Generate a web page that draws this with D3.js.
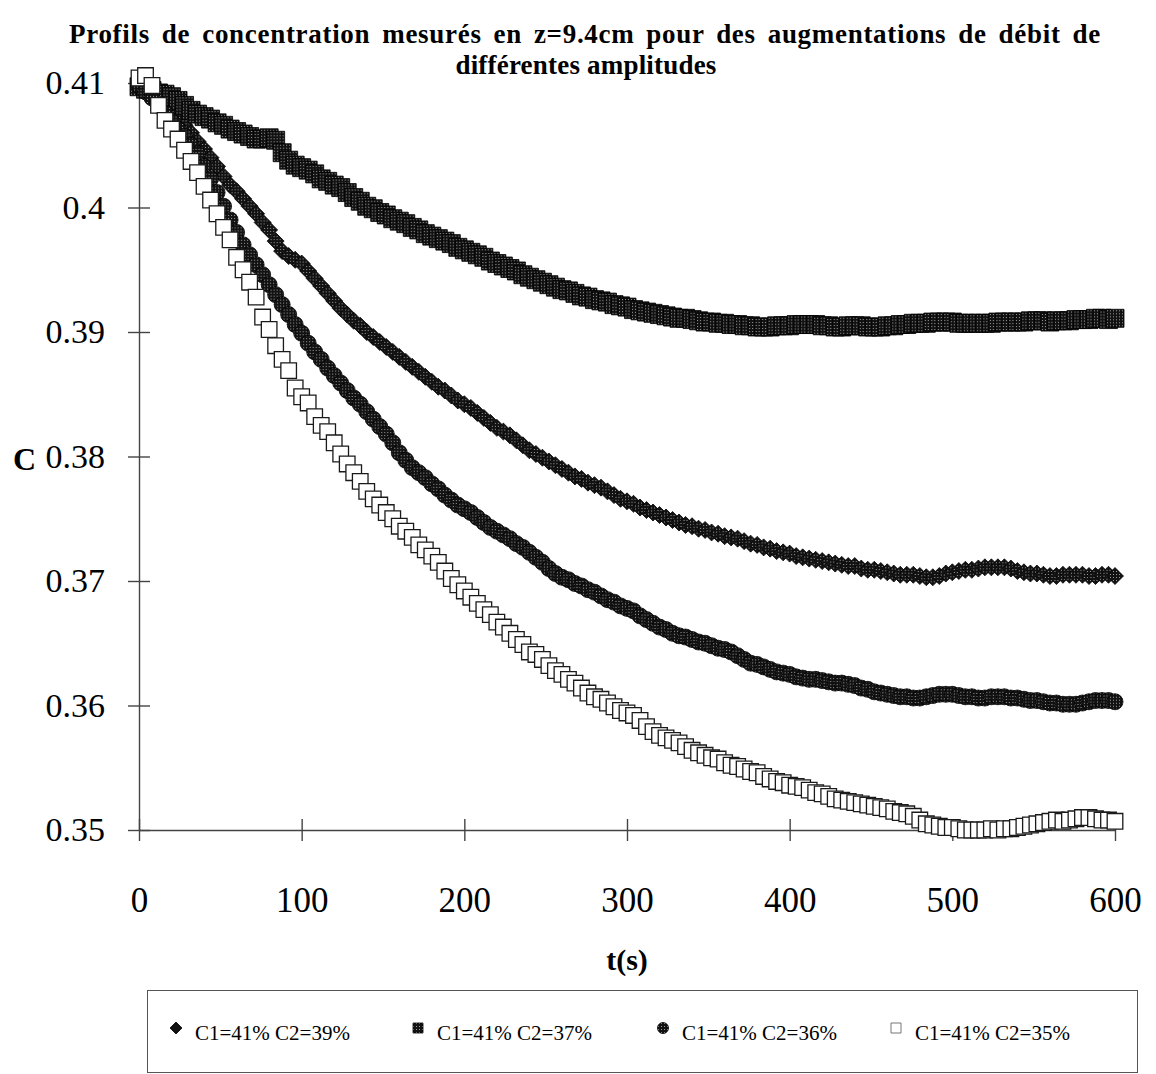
<!DOCTYPE html>
<html><head><meta charset="utf-8">
<script src="https://cdn.jsdelivr.net/npm/d3@7"></script>
<style>body{margin:0;background:#fff}svg{display:block}</style>
</head><body>
<svg id="chart" width="1156" height="1074"></svg>
<script>
// sampling instants of the probe, in seconds
const times = d3.range(0, 601, 4);

const xTicks = [0, 100, 200, 300, 400, 500, 600];
const yTicks = [0.35, 0.36, 0.37, 0.38, 0.39, 0.40, 0.41];
const yTickLabels = ["0.35", "0.36", "0.37", "0.38", "0.39", "0.4", "0.41"];
const seriesNames = ["C1=41% C2=39%", "C1=41% C2=37%", "C1=41% C2=36%", "C1=41% C2=35%"];

// measured concentration at z = 9.4 cm, one value per sampling instant
const c39 = [
  0.4098,0.4095,0.4090,0.4086,0.4081,0.4076,0.4071,0.4066,0.4060,0.4053,
  0.4047,0.4040,0.4033,0.4025,0.4018,0.4013,0.4007,0.4001,0.3995,0.3988,
  0.3982,0.3973,0.3965,0.3961,0.3958,0.3955,0.3949,0.3943,0.3937,0.3931,
  0.3925,0.3919,0.3914,0.3909,0.3905,0.3900,0.3896,0.3892,0.3888,0.3884,
  0.3880,0.3876,0.3872,0.3868,0.3864,0.3860,0.3856,0.3853,0.3849,0.3845,
  0.3842,0.3839,0.3835,0.3831,0.3827,0.3823,0.3820,0.3817,0.3813,0.3809,
  0.3805,0.3802,0.3799,0.3796,0.3793,0.3790,0.3787,0.3784,0.3782,0.3779,
  0.3777,0.3775,0.3772,0.3769,0.3766,0.3764,0.3762,0.3759,0.3757,0.3755,
  0.3753,0.3751,0.3749,0.3747,0.3745,0.3744,0.3742,0.3741,0.3739,0.3738,
  0.3736,0.3735,0.3734,0.3732,0.3730,0.3729,0.3727,0.3726,0.3724,0.3723,
  0.3722,0.3720,0.3719,0.3718,0.3717,0.3716,0.3715,0.3714,0.3713,0.3712,
  0.3712,0.3710,0.3709,0.3709,0.3708,0.3707,0.3706,0.3705,0.3705,0.3705,
  0.3704,0.3703,0.3703,0.3704,0.3706,0.3707,0.3708,0.3709,0.3709,0.3710,
  0.3711,0.3711,0.3711,0.3711,0.3710,0.3708,0.3707,0.3706,0.3706,0.3705,
  0.3704,0.3704,0.3705,0.3705,0.3705,0.3705,0.3704,0.3704,0.3705,0.3705,
  0.3704
];
const c37 = [
  0.4097,0.4095,0.4094,0.4092,0.4091,0.4089,0.4086,0.4082,0.4078,0.4075,
  0.4073,0.4071,0.4068,0.4066,0.4063,0.4061,0.4059,0.4057,0.4055,0.4055,
  0.4056,0.4054,0.4044,0.4038,0.4034,0.4032,0.4030,0.4027,0.4023,0.4021,
  0.4018,0.4016,0.4012,0.4008,0.4005,0.4001,0.3999,0.3996,0.3994,0.3991,
  0.3989,0.3987,0.3984,0.3982,0.3979,0.3977,0.3975,0.3973,0.3971,0.3968,
  0.3966,0.3964,0.3962,0.3960,0.3957,0.3955,0.3953,0.3951,0.3949,0.3946,
  0.3944,0.3942,0.3940,0.3938,0.3936,0.3934,0.3933,0.3931,0.3929,0.3928,
  0.3926,0.3925,0.3924,0.3922,0.3921,0.3920,0.3918,0.3917,0.3916,0.3915,
  0.3914,0.3913,0.3912,0.3911,0.3911,0.3910,0.3909,0.3908,0.3908,0.3907,
  0.3907,0.3906,0.3906,0.3905,0.3905,0.3904,0.3904,0.3904,0.3905,0.3905,
  0.3905,0.3906,0.3906,0.3906,0.3906,0.3905,0.3905,0.3904,0.3904,0.3905,
  0.3905,0.3905,0.3904,0.3904,0.3904,0.3905,0.3905,0.3906,0.3906,0.3907,
  0.3907,0.3907,0.3908,0.3908,0.3908,0.3908,0.3907,0.3907,0.3907,0.3907,
  0.3907,0.3907,0.3908,0.3908,0.3908,0.3908,0.3908,0.3909,0.3909,0.3909,
  0.3908,0.3909,0.3909,0.3909,0.3910,0.3910,0.3910,0.3911,0.3911,0.3910,
  0.3911
];
const c36 = [
  0.4098,0.4093,0.4088,0.4082,0.4076,0.4069,0.4063,0.4057,0.4050,0.4043,
  0.4033,0.4023,0.4012,0.4001,0.3990,0.3980,0.3970,0.3962,0.3954,0.3946,
  0.3938,0.3930,0.3922,0.3914,0.3906,0.3899,0.3891,0.3884,0.3878,0.3871,
  0.3865,0.3859,0.3853,0.3847,0.3842,0.3836,0.3830,0.3824,0.3818,0.3811,
  0.3803,0.3797,0.3791,0.3787,0.3783,0.3778,0.3774,0.3769,0.3765,0.3761,
  0.3758,0.3755,0.3751,0.3747,0.3743,0.3740,0.3737,0.3734,0.3730,0.3727,
  0.3723,0.3719,0.3715,0.3710,0.3706,0.3703,0.3701,0.3698,0.3696,0.3693,
  0.3691,0.3688,0.3685,0.3683,0.3680,0.3678,0.3676,0.3672,0.3669,0.3666,
  0.3663,0.3661,0.3658,0.3656,0.3655,0.3653,0.3651,0.3650,0.3648,0.3646,
  0.3645,0.3643,0.3640,0.3637,0.3634,0.3633,0.3631,0.3629,0.3627,0.3626,
  0.3625,0.3623,0.3622,0.3621,0.3621,0.3620,0.3619,0.3618,0.3618,0.3617,
  0.3616,0.3614,0.3613,0.3611,0.3610,0.3609,0.3608,0.3607,0.3607,0.3606,
  0.3606,0.3607,0.3608,0.3609,0.3609,0.3609,0.3608,0.3607,0.3607,0.3606,
  0.3606,0.3607,0.3607,0.3607,0.3606,0.3606,0.3605,0.3604,0.3604,0.3603,
  0.3602,0.3602,0.3601,0.3601,0.3601,0.3602,0.3603,0.3604,0.3604,0.3604,
  0.3603
];
const c35 = [
  0.4104,0.4106,0.4098,0.4082,0.4070,0.4063,0.4055,0.4046,0.4037,0.4028,
  0.4017,0.4006,0.3995,0.3984,0.3974,0.3960,0.3950,0.3940,0.3928,0.3912,
  0.3902,0.3889,0.3878,0.3869,0.3855,0.3848,0.3843,0.3832,0.3825,0.3820,
  0.3811,0.3802,0.3794,0.3787,0.3780,0.3772,0.3766,0.3761,0.3755,0.3750,
  0.3744,0.3740,0.3735,0.3729,0.3725,0.3720,0.3715,0.3708,0.3702,0.3697,
  0.3692,0.3687,0.3682,0.3677,0.3673,0.3667,0.3663,0.3658,0.3653,0.3649,
  0.3643,0.3641,0.3637,0.3632,0.3628,0.3625,0.3621,0.3618,0.3614,0.3610,
  0.3607,0.3605,0.3602,0.3599,0.3596,0.3594,0.3592,0.3588,0.3583,0.3579,
  0.3576,0.3574,0.3572,0.3570,0.3567,0.3564,0.3562,0.3560,0.3558,0.3557,
  0.3554,0.3552,0.3551,0.3549,0.3547,0.3546,0.3543,0.3541,0.3539,0.3538,
  0.3536,0.3535,0.3534,0.3532,0.3530,0.3529,0.3527,0.3525,0.3524,0.3523,
  0.3522,0.3521,0.3520,0.3519,0.3518,0.3517,0.3515,0.3514,0.3513,0.3511,
  0.3508,0.3505,0.3504,0.3503,0.3502,0.3502,0.3501,0.3500,0.3500,0.3500,
  0.3500,0.3501,0.3500,0.3501,0.3501,0.3502,0.3503,0.3504,0.3505,0.3506,
  0.3507,0.3508,0.3507,0.3508,0.3509,0.3510,0.3510,0.3509,0.3508,0.3508,
  0.3507
];

const serif = "'Liberation Serif','Times New Roman',Times,serif";
const svg = d3.select("#chart");
svg.append("rect").attr("width", 1156).attr("height", 1074).attr("fill", "#fff");

// stippled dark fill used by the solid markers
const defs = svg.append("defs");
const pat = defs.append("pattern").attr("id", "stipple")
  .attr("patternUnits", "userSpaceOnUse").attr("width", 3).attr("height", 3);
pat.append("rect").attr("width", 3).attr("height", 3).attr("fill", "#121212");
pat.append("rect").attr("x", 1).attr("y", 1).attr("width", 1).attr("height", 1).attr("fill", "#9c9c9c");

const x = d3.scaleLinear().domain([0, 600]).range([139, 1115]);
const y = d3.scaleLinear().domain([0.35, 0.41]).range([830, 83]);

// title
const title = svg.append("text").attr("text-anchor", "middle")
  .attr("font-family", serif).attr("font-weight", "bold").attr("font-size", 27);
title.append("tspan").attr("x", 585).attr("y", 43)
  .attr("word-spacing", 4.5).attr("letter-spacing", 0.7)
  .text("Profils de concentration mesurés en z=9.4cm pour des augmentations de débit de");
title.append("tspan").attr("x", 586).attr("y", 74).attr("letter-spacing", 0.2)
  .text("différentes amplitudes");

// axes with ticks crossing the axis line
const tick = 11;
const yAxis = svg.append("g").attr("transform", `translate(${x(0)},0)`)
  .call(d3.axisLeft(y).tickValues(yTicks).tickFormat((d, i) => yTickLabels[i])
    .tickSizeInner(tick).tickSizeOuter(0).tickPadding(23));
yAxis.selectAll(".tick line").attr("x1", tick);
yAxis.selectAll(".tick text").attr("font-size", 34).attr("font-family", serif).attr("fill", "#000");

const xAxis = svg.append("g").attr("transform", `translate(0,${y(0.35)})`)
  .call(d3.axisBottom(x).tickValues(xTicks).tickFormat(d3.format("d"))
    .tickSizeInner(tick).tickSizeOuter(0).tickPadding(46));
xAxis.selectAll(".tick line").attr("y1", -tick);
xAxis.selectAll(".tick text").attr("font-size", 35).attr("font-family", serif).attr("fill", "#000");

svg.selectAll(".domain, .tick line").attr("stroke", "#444").attr("stroke-width", 1.4);

// axis titles
svg.append("text").attr("x", 13).attr("y", 470)
  .attr("font-family", serif).attr("font-weight", "bold").attr("font-size", 32).text("C");
svg.append("text").attr("x", 627).attr("y", 970).attr("text-anchor", "middle")
  .attr("font-family", serif).attr("font-weight", "bold").attr("font-size", 30).text("t(s)");

// marker shapes
const shapes = {
  diamond: s => `M0,${-s}L${s},0L0,${s}L${-s},0Z`,
  square: s => `M${-s},${-s}H${s}V${s}H${-s}Z`,
  circle: s => `M${-s},0A${s},${s} 0 1,0 ${s},0A${s},${s} 0 1,0 ${-s},0Z`
};
const styles = [
  {values: c39, shape: "diamond", size: 8.5, fill: "url(#stipple)", stroke: "#000", sw: 0.8},
  {values: c37, shape: "square", size: 9, fill: "url(#stipple)", stroke: "#000", sw: 0.8},
  {values: c36, shape: "circle", size: 8, fill: "url(#stipple)", stroke: "#000", sw: 0.8},
  {values: c35, shape: "square", size: 7.8, fill: "#fff", stroke: "#1a1a1a", sw: 1.3}
];

styles.forEach(st => {
  svg.append("g").selectAll("path").data(times.map((t, i) => [t, st.values[i]])).join("path")
    .attr("transform", d => `translate(${x(d[0])},${y(d[1])})`)
    .attr("d", shapes[st.shape](st.size))
    .attr("fill", st.fill).attr("stroke", st.stroke).attr("stroke-width", st.sw);
});

// legend
const lg = svg.append("g");
lg.append("rect").attr("x", 147.5).attr("y", 990.5).attr("width", 990).attr("height", 82)
  .attr("fill", "none").attr("stroke", "#555").attr("stroke-width", 1);
const legendX = [176, 418, 663, 896];
const legendStyles = [
  {shape: "diamond", size: 6, fill: "#111", stroke: "#000", sw: 0.8},
  {shape: "square", size: 5, fill: "url(#stipple)", stroke: "#000", sw: 0.8},
  {shape: "circle", size: 5.5, fill: "url(#stipple)", stroke: "#000", sw: 0.8},
  {shape: "square", size: 5, fill: "#fff", stroke: "#777", sw: 1}
];
seriesNames.forEach((name, i) => {
  const ls = legendStyles[i];
  lg.append("path").attr("transform", `translate(${legendX[i]},1028)`)
    .attr("d", shapes[ls.shape](ls.size))
    .attr("fill", ls.fill).attr("stroke", ls.stroke).attr("stroke-width", ls.sw);
  lg.append("text").attr("x", legendX[i] + 19).attr("y", 1040)
    .attr("font-family", serif).attr("font-size", 21).text(name);
});
</script>
</body></html>
